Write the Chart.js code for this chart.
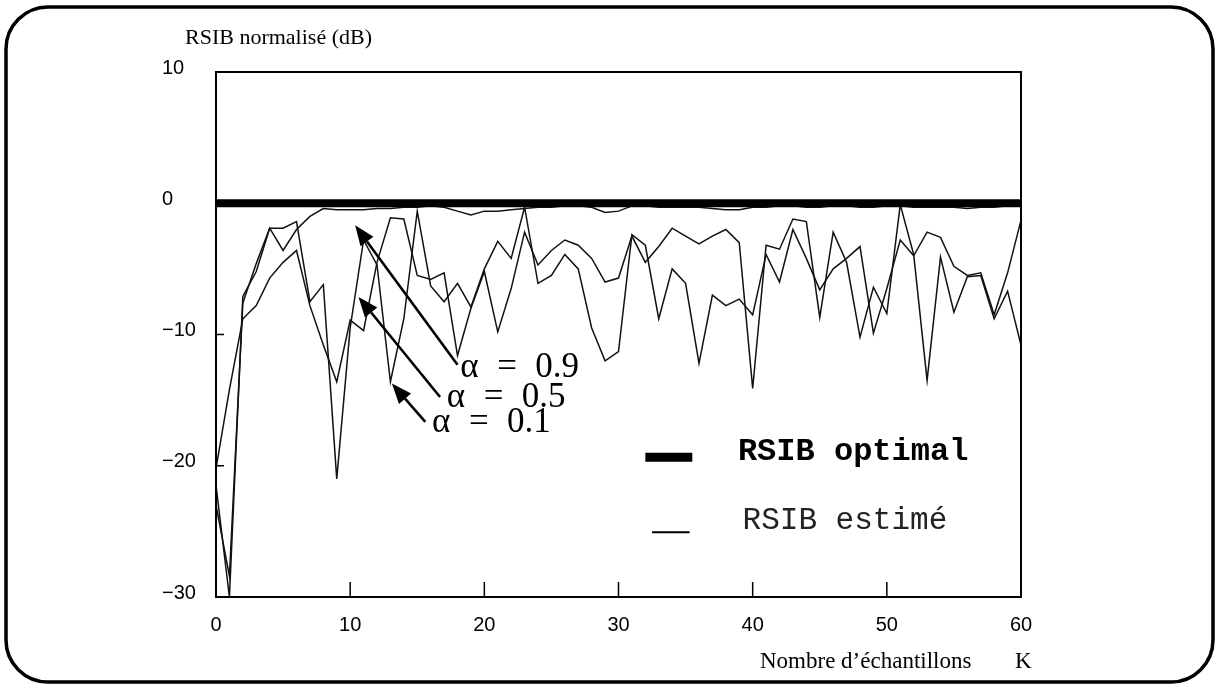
<!DOCTYPE html>
<html>
<head>
<meta charset="utf-8">
<script src="https://cdn.jsdelivr.net/npm/chart.js@4.4.1/dist/chart.umd.min.js"></script>
<style>
  html, body { margin: 0; padding: 0; background: #fff; }
  #wrap { width: 1220px; height: 686px; position: relative; }
</style>
</head>
<body>
<div id="wrap"><canvas id="c"></canvas></div>
<script>
// Sample index K (0 .. 60)
const samples = Array.from({ length: 61 }, (_, i) => i);

// Optimal normalised SNR level (dB)
const rsibOptimal = 0;

// Estimated normalised SNR (dB), one series per forgetting factor
const alpha09 = [
  -23.0, -28.4, -7.6, -4.6, -1.9, -3.6, -2.0, -1.0, -0.4, -0.5,
  -0.5, -0.5, -0.4, -0.4, -0.3, -0.3, -0.2, -0.3, -0.6, -0.9,
  -0.6, -0.6, -0.5, -0.4, -0.3, -0.3, -0.2, -0.2, -0.3, -0.7,
  -0.6, -0.2, -0.2, -0.3, -0.3, -0.3, -0.3, -0.4, -0.5, -0.5,
  -0.3, -0.3, -0.2, -0.2, -0.3, -0.3, -0.2, -0.2, -0.3, -0.3,
  -0.2, -0.2, -0.3, -0.3, -0.3, -0.3, -0.4, -0.3, -0.3, -0.2,
  -0.2
];
const alpha05 = [
  -20.2, -14.2, -8.8, -7.8, -5.7, -4.5, -3.6, -7.8, -10.8, -13.6,
  -8.9, -9.7, -4.5, -1.1, -1.2, -5.5, -5.8, -5.3, -11.6, -8.0,
  -5.2, -9.8, -6.5, -2.2, -4.7, -3.6, -2.8, -3.2, -4.2, -6.0,
  -5.7, -2.5, -4.5, -3.3, -1.9, -2.5, -3.1, -2.5, -2.0, -3.0,
  -14.1, -3.2, -3.5, -1.2, -1.4, -8.7, -2.2, -4.5, -10.2, -6.4,
  -8.4, -0.1, -3.9, -13.5, -4.1, -8.3, -5.6, -5.5, -8.8, -6.7,
  -10.8
];
const alpha01 = [
  -21.5, -30.0, -7.1, -5.2, -1.9, -1.9, -1.4, -7.5, -6.2, -21.0,
  -9.5, -2.8, -4.7, -13.6, -8.8, -0.6, -6.3, -7.5, -6.1, -7.9,
  -5.0, -2.9, -4.2, -0.3, -6.1, -5.5, -3.9, -5.0, -9.5, -12.0,
  -11.3, -2.4, -3.2, -8.8, -5.0, -6.1, -12.2, -7.0, -7.8, -7.3,
  -8.5, -3.9, -6.0, -2.0, -4.2, -6.6, -5.0, -4.2, -3.3, -9.9,
  -6.5, -2.8, -4.0, -2.2, -2.6, -4.8, -5.5, -5.3, -8.5, -5.3,
  -1.3
];

// Axis ticks
const xTicks = [0, 10, 20, 30, 40, 50, 60];
const yTicks = [10, 0, -10, -20, -30];

// Text
const yTitle = 'RSIB normalisé (dB)';
const xTitle = 'Nombre d\u2019échantillons';
const xSymbol = 'K';
const legendOptimal = 'RSIB optimal';
const legendEstimated = 'RSIB estimé';
const alphaValues = ['0.9', '0.5', '0.1'];

const tickFont = '"Liberation Sans Narrow", "Liberation Sans", Arial, sans-serif';
const serif = '"Liberation Serif", "Times New Roman", serif';
const mono = '"Liberation Mono", "Courier New", monospace';

const toPoints = arr => samples.map((k, i) => ({ x: k, y: arr[i] }));

// Arrows pointing from each alpha label to its curve (data coordinates)
const alphaNotes = [
  { tip: [10.37, -1.68], tail: [18.0, -12.3], text: [18.2, -13.26] },
  { tip: [10.62, -7.14], tail: [16.7, -14.76], text: [17.2, -15.5] },
  { tip: [13.11, -13.74], tail: [15.6, -16.66], text: [16.1, -17.4] }
];

function arrow(ctx, x0, y0, x1, y1) {
  const ang = Math.atan2(y1 - y0, x1 - x0);
  const len = 20, half = 8;
  const bx = x1 - len * Math.cos(ang), by = y1 - len * Math.sin(ang);
  ctx.beginPath();
  ctx.moveTo(x0, y0);
  ctx.lineTo(bx, by);
  ctx.lineWidth = 2.6;
  ctx.stroke();
  ctx.beginPath();
  ctx.moveTo(x1, y1);
  ctx.lineTo(bx + half * Math.sin(ang), by - half * Math.cos(ang));
  ctx.lineTo(bx - half * Math.sin(ang), by + half * Math.cos(ang));
  ctx.closePath();
  ctx.fill();
}

const decorations = {
  id: 'decorations',
  beforeDraw(chart) {
    const ctx = chart.ctx;
    ctx.save();
    ctx.fillStyle = '#fff';
    ctx.fillRect(0, 0, chart.width, chart.height);
    // rounded outer frame
    ctx.strokeStyle = '#000';
    ctx.lineWidth = 3.5;
    ctx.beginPath();
    ctx.roundRect(6, 7, 1207, 675, 42);
    ctx.stroke();
    ctx.restore();
  },
  afterDatasetsDraw(chart) {
    const ctx = chart.ctx;
    const xs = chart.scales.x, ys = chart.scales.y;
    const a = chart.chartArea;
    const px = v => xs.getPixelForValue(v);
    const py = v => ys.getPixelForValue(v);
    ctx.save();
    ctx.strokeStyle = '#000';
    ctx.fillStyle = '#000';

    // plot box
    ctx.lineWidth = 2;
    ctx.strokeRect(a.left, a.top, a.right - a.left, a.bottom - a.top);

    // inward tick marks
    ctx.lineWidth = 1.5;
    ctx.beginPath();
    xTicks.slice(1, -1).forEach(v => {
      ctx.moveTo(px(v), a.bottom);
      ctx.lineTo(px(v), a.bottom - 15);
    });
    yTicks.slice(1, -1).forEach(v => {
      ctx.moveTo(a.left, py(v));
      ctx.lineTo(a.left + 8, py(v));
    });
    ctx.stroke();

    // axis titles
    ctx.font = '22px ' + serif;
    ctx.textBaseline = 'alphabetic';
    ctx.textAlign = 'left';
    ctx.fillText(yTitle, 185, 44);
    ctx.font = '23px ' + serif;
    ctx.fillText(xTitle, 760, 668);
    ctx.fillText(xSymbol, 1015, 668);

    // alpha labels with arrows
    alphaNotes.forEach((n, i) => {
      arrow(ctx, px(n.tail[0]), py(n.tail[1]), px(n.tip[0]), py(n.tip[1]));
      const tx = px(n.text[0]), ty = py(n.text[1]);
      ctx.font = '35px ' + serif;
      ctx.fillText('\u03b1', tx, ty);
      ctx.fillText('=', tx + 37, ty);
      ctx.fillText(alphaValues[i], tx + 75, ty);
    });

    // legend
    ctx.lineWidth = 9;
    ctx.beginPath();
    ctx.moveTo(px(32.0), py(-19.35));
    ctx.lineTo(px(35.5), py(-19.35));
    ctx.stroke();
    ctx.font = 'bold 32px ' + mono;
    ctx.fillText(legendOptimal, px(38.9), py(-19.55));
    ctx.lineWidth = 2;
    ctx.beginPath();
    ctx.moveTo(px(32.5), py(-25.07));
    ctx.lineTo(px(35.3), py(-25.07));
    ctx.stroke();
    ctx.font = '31px ' + mono;
    ctx.fillStyle = '#222';
    ctx.fillText(legendEstimated, px(39.25), py(-24.85));
    ctx.restore();
  }
};

const thin = { borderColor: '#111', borderWidth: 1.5, pointRadius: 0, tension: 0, fill: false };

new Chart(document.getElementById('c'), {
  type: 'line',
  data: {
    datasets: [
      { label: legendOptimal, data: [{ x: samples[0], y: rsibOptimal }, { x: samples[samples.length - 1], y: rsibOptimal }],
        borderColor: '#000', borderWidth: 8, pointRadius: 0, fill: false },
      Object.assign({ label: '\u03b1 = 0.9', data: toPoints(alpha09) }, thin),
      Object.assign({ label: '\u03b1 = 0.5', data: toPoints(alpha05) }, thin),
      Object.assign({ label: '\u03b1 = 0.1', data: toPoints(alpha01) }, thin)
    ]
  },
  options: {
    responsive: true,
    maintainAspectRatio: false,
    animation: false,
    events: [],
    layout: { padding: { left: 162, right: 199, top: 72, bottom: 0 } },
    plugins: { legend: { display: false }, tooltip: { enabled: false } },
    scales: {
      x: {
        type: 'linear', min: 0, max: 60,
        afterBuildTicks: s => { s.ticks = xTicks.map(v => ({ value: v })); },
        afterFit: s => { s.height = 89; },
        grid: { display: false, drawTicks: false },
        border: { display: false },
        ticks: { color: '#000', font: { family: tickFont, size: 20 }, padding: 16, maxRotation: 0, autoSkip: false }
      },
      y: {
        type: 'linear', min: -30, max: 10,
        afterBuildTicks: s => { s.ticks = yTicks.map(v => ({ value: v })); },
        afterFit: s => { s.width = 54; },
        grid: { display: false, drawTicks: false },
        border: { display: false },
        ticks: {
          color: '#000', font: { family: tickFont, size: 20 }, crossAlign: 'far', labelOffset: -4,
          callback: v => String(v).replace('-', '\u2212')
        }
      }
    }
  },
  plugins: [decorations]
});
</script>
</body>
</html>
